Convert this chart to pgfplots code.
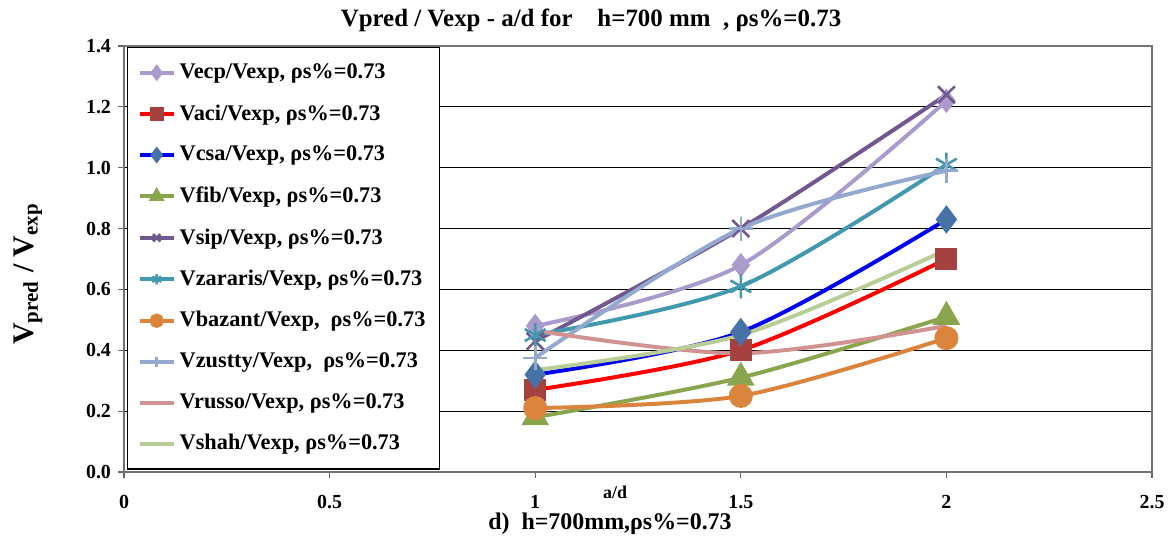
\documentclass[border=0pt]{standalone}
\usepackage{pgfplots}
\pgfplotsset{compat=1.18}
\usepackage{fontspec}
\setmainfont{Liberation Serif}
\definecolor{cecp}{HTML}{A99BCB}
\definecolor{caci}{HTML}{FF0000}
\definecolor{caciM}{HTML}{A5423F}
\definecolor{ccsa}{HTML}{0000F0}
\definecolor{ccsaM}{HTML}{4572A7}
\definecolor{cfib}{HTML}{89A54E}
\definecolor{csip}{HTML}{71588F}
\definecolor{czar}{HTML}{4198AF}
\definecolor{cbaz}{HTML}{DB843D}
\definecolor{czus}{HTML}{93A9CF}
\definecolor{crus}{HTML}{D19392}
\definecolor{csha}{HTML}{B9CD96}
\begin{document}
\begin{tikzpicture}[x=1bp,y=1bp]
\path[use as bounding box] (0,0) rectangle (585.5,271);
\begin{axis}[
  at={(62bp,35bp)}, anchor=south west,
  scale only axis, width=514bp, height=213bp,
  xmin=0, xmax=2.5, ymin=0, ymax=1.4,
  xtick={0,0.5,1,1.5,2,2.5},
  xticklabels={0,0.5,1,1.5,2,2.5},
  ytick={0,0.2,0.4,0.6,0.8,1.0,1.2,1.4},
  yticklabels={0.0,0.2,0.4,0.6,0.8,1.0,1.2,1.4},
  ymajorgrids, grid style={black, line width=0.6pt},
  axis line style={black!55, line width=1pt},
  tick style={black!60, line width=0.6pt},
  tick align=outside, major tick length=3bp,
  xtick pos=bottom, ytick pos=left,
  ticklabel style={font=\fontsize{10}{12}\selectfont\bfseries},
  xticklabel style={yshift=-5bp},
  legend cell align=left,
  legend style={at={(0.003,0.997)}, anchor=north west, draw=black, line width=0.6pt,
     font=\fontsize{11.2}{12}\selectfont\bfseries, row sep=7.5bp,
     inner xsep=5bp, inner ysep=6bp},
  legend image post style={line width=2pt, mark size=2.6bp},
  every axis plot/.append style={line width=2pt, smooth, tension=0.5},
]
\addplot[color=cecp, mark=diamond*, mark size=4.5bp, mark options={fill=cecp, draw=cecp}]
  coordinates {(1,0.48) (1.5,0.68) (2,1.22)};
\addlegendentry{Vecp/Vexp, ρs\%=0.73}
\addplot[color=caci, mark=square*, mark size=4.5bp, mark options={fill=caciM, draw=caciM}]
  coordinates {(1,0.27) (1.5,0.40) (2,0.70)};
\addlegendentry{Vaci/Vexp, ρs\%=0.73}
\addplot[color=ccsa, mark=diamond*, mark size=5.5bp, mark options={fill=ccsaM, draw=ccsaM}]
  coordinates {(1,0.32) (1.5,0.46) (2,0.83)};
\addlegendentry{Vcsa/Vexp, ρs\%=0.73}
\addplot[color=cfib, mark=triangle*, mark size=6bp, mark options={fill=cfib, draw=cfib}]
  coordinates {(1,0.18) (1.5,0.31) (2,0.51)};
\addlegendentry{Vfib/Vexp, ρs\%=0.73}
\addplot[color=csip, mark=x, mark size=6bp, mark options={line width=1.3pt}]
  coordinates {(1,0.43) (1.5,0.80) (2,1.24)};
\addlegendentry{Vsip/Vexp, ρs\%=0.73}
\addplot[color=czar, mark=asterisk, mark size=6bp, mark options={line width=1.3pt}]
  coordinates {(1,0.45) (1.5,0.61) (2,1.01)};
\addlegendentry{Vzararis/Vexp, ρs\%=0.73}
\addplot[color=cbaz, mark=*, mark size=5bp, mark options={fill=cbaz, draw=cbaz}]
  coordinates {(1,0.21) (1.5,0.25) (2,0.44)};
\addlegendentry{Vbazant/Vexp,\ \ ρs\%=0.73}
\addplot[color=czus, mark=+, mark size=6bp, mark options={line width=1.3pt}]
  coordinates {(1,0.375) (1.5,0.80) (2,0.99)};
\addlegendentry{Vzustty/Vexp,\ \ ρs\%=0.73}
\addplot[color=crus, no marks]
  coordinates {(1,0.465) (1.5,0.39) (2,0.48)};
\addlegendentry{Vrusso/Vexp, ρs\%=0.73}
\addplot[color=csha, no marks]
  coordinates {(1,0.335) (1.5,0.45) (2,0.73)};
\addlegendentry{Vshah/Vexp, ρs\%=0.73}
\end{axis}
\node[font=\fontsize{12.5}{14}\selectfont\bfseries] at (295.5,261) {Vpred / Vexp - a/d for\ \ \ \ h=700 mm\ \ , ρs\%=0.73};
\node[font=\fontsize{12}{14}\selectfont\bfseries] at (305,9) {d)\ \ h=700mm,ρs\%=0.73};
\node[font=\fontsize{9}{11}\selectfont\bfseries] at (307.5,25) {a/d};
\node[rotate=90, font=\fontsize{15}{17}\selectfont\bfseries] at (14,134) {V$_{\mathbf{pred}}$ / V$_{\mathbf{exp}}$};
\end{tikzpicture}
\end{document}
